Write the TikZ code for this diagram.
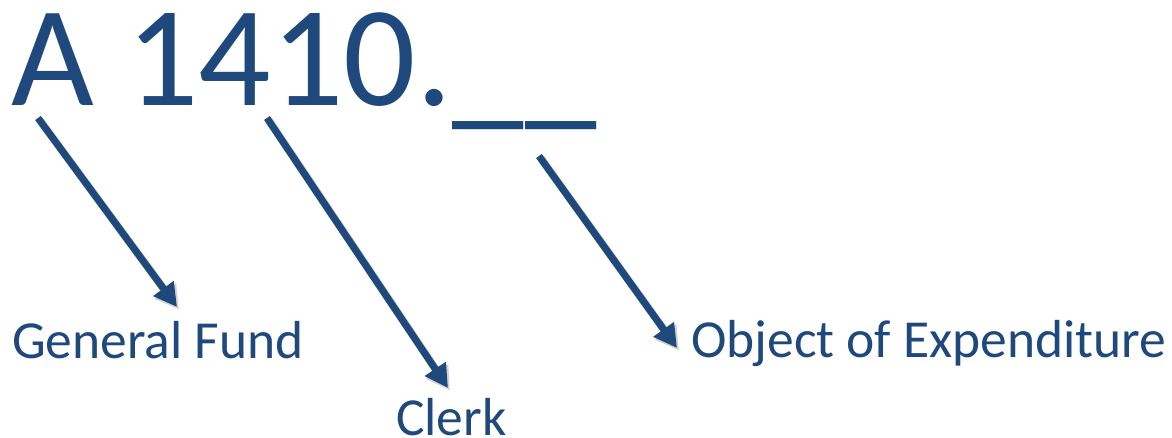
\documentclass[tikz,border=0pt]{standalone}
\usepackage{fontspec}
\setmainfont{Carlito}
\usetikzlibrary{arrows.meta}
\definecolor{codeblue}{RGB}{31,73,125}
\tikzset{
  codetext/.style={text=codeblue, inner sep=0pt, anchor=base west},
  bigtext/.style={codetext, font=\fontsize{143}{143}\selectfont},
  labeltext/.style={codetext, font=\fontsize{53.5}{53.5}\selectfont},
  pointer/.style={draw=codeblue, line width=7pt,
    -{Triangle[length=23pt,width=24pt]}},
  pointershadow/.style={draw=black, opacity=0.18, line width=8pt,
    -{Triangle[length=23pt,width=25pt]}},
}
\begin{document}
\begin{tikzpicture}[x=1pt,y=-1pt]
  \useasboundingbox (0,0) rectangle (1172,438);

  % account code with its two blanks
  \node[bigtext] (code) at (11,106) {A 1410.};
  \node[bigtext] (blanks) at ([yshift=-5pt]code.base east) {\_\kern1.5pt\_};

  % labels
  \node[labeltext] (fund) at (12,358) {General Fund};
  \node[labeltext] (clerk) at (396,435) {Clerk};
  \node[labeltext] (object) at (691,357) {Object of Expenditure};

  % pointer ends
  \coordinate (fundTail) at (38,118);
  \coordinate (fundTip) at (177,307);
  \coordinate (clerkTail) at (267,118);
  \coordinate (clerkTip) at (448,388);
  \coordinate (objTail) at (539,156);
  \coordinate (objTip) at (677,348);

  % soft shadows
  \foreach \a/\b in {fundTail/fundTip, clerkTail/clerkTip, objTail/objTip}
    \draw[pointershadow] ([shift={(2,2.5)}]\a) -- ([shift={(2,2.5)}]\b);

  % pointers
  \draw[pointer] (fundTail) -- (fundTip);
  \draw[pointer] (clerkTail) -- (clerkTip);
  \draw[pointer] (objTail) -- (objTip);
\end{tikzpicture}
\end{document}
